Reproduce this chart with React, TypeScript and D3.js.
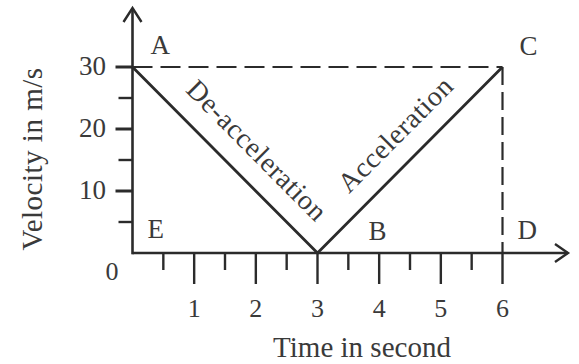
import React from "react";
import * as d3 from "d3";

// Velocity–time profile: decelerates from 30 m/s to rest, then accelerates back.
const times = [0, 3, 6];
const velocities = [30, 0, 30];
const xTickLabels = ["1", "2", "3", "4", "5", "6"];
const yTickLabels = ["10", "20", "30"];
const pointNames = ["A", "B", "C", "D", "E"];
const segmentLabels = ["De-acceleration", "Acceleration"];

const W = 579;
const H = 364;
const FONT = "'Liberation Serif', 'Times New Roman', serif";
const INK = "#2b2b2b";
const TEXT = "#3a3a3a";

export default function App() {
  const x = d3.scaleLinear().domain([0, 6]).range([132.5, 502.5]);
  const y = d3.scaleLinear().domain([0, 30]).range([253, 67]);

  const pts: [number, number][] = times.map((t, i) => [t, velocities[i]]);
  const line = d3
    .line<[number, number]>()
    .x((d) => x(d[0]))
    .y((d) => y(d[1]));

  const xTicks = d3.range(0.5, 6.01, 0.5);
  const yTicks = d3.range(5, 30.01, 5);

  const x0 = x(0);
  const y0 = y(0);
  const xEnd = 568;
  const yTop = 8;

  // segment label placement: position along the segment and perpendicular offset
  const segText = (
    a: [number, number],
    b: [number, number],
    frac: number,
    off: number,
    label: string
  ) => {
    const ax = x(a[0]), ay = y(a[1]), bx = x(b[0]), by = y(b[1]);
    const px = ax + (bx - ax) * frac;
    const py = ay + (by - ay) * frac;
    const ang = (Math.atan2(by - ay, bx - ax) * 180) / Math.PI;
    const len = Math.hypot(bx - ax, by - ay);
    // normal pointing to the "up" side of the rotated text
    const nx = (by - ay) / len;
    const ny = -(bx - ax) / len;
    const sx = ny < 0 ? 1 : -1;
    const cx = px + nx * off * sx;
    const cy = py + ny * off * sx;
    return (
      <text
        key={label}
        transform={`translate(${cx},${cy}) rotate(${ang})`}
        textAnchor="middle"
        fontSize={28}
        fontFamily={FONT}
        fill={TEXT}
        letterSpacing={0.6}
      >
        {label}
      </text>
    );
  };

  return (
    <svg width={W} height={H} style={{ position: "absolute", left: 0, top: 0, background: "#fff" }}>
      <rect width={W} height={H} fill="#fff" />

      {/* dashed guides from A to C and from C down to the time axis */}
      <line
        x1={x(0)}
        y1={y(30)}
        x2={x(6)}
        y2={y(30)}
        stroke={INK}
        strokeWidth={2.2}
        strokeDasharray="20 8"
      />
      <line
        x1={x(6)}
        y1={y(30)}
        x2={x(6)}
        y2={y0}
        stroke={INK}
        strokeWidth={2.2}
        strokeDasharray="18 7"
      />

      {/* axes */}
      <line x1={x0} y1={y0} x2={xEnd} y2={y0} stroke={INK} strokeWidth={2.6} />
      <line x1={x0} y1={y0 + 1.3} x2={x0} y2={yTop} stroke={INK} strokeWidth={2.6} />
      <polyline
        points={`${xEnd - 13},${y0 - 9} ${xEnd},${y0} ${xEnd - 13},${y0 + 9}`}
        fill="none"
        stroke={INK}
        strokeWidth={2.4}
      />
      <polyline
        points={`${x0 - 9},${yTop + 14} ${x0},${yTop} ${x0 + 9},${yTop + 14}`}
        fill="none"
        stroke={INK}
        strokeWidth={2.4}
      />

      {/* x ticks */}
      {xTicks.map((t) => {
        const major = Math.abs(t - Math.round(t)) < 1e-6;
        return (
          <line
            key={`xt${t}`}
            x1={x(t)}
            y1={y0}
            x2={x(t)}
            y2={y0 + (major ? 31 : 17)}
            stroke={INK}
            strokeWidth={2.4}
          />
        );
      })}
      {xTickLabels.map((l, i) => (
        <text
          key={`xl${l}`}
          x={x(i + 1)}
          y={317}
          textAnchor="middle"
          fontSize={26}
          fontFamily={FONT}
          fill={TEXT}
        >
          {l}
        </text>
      ))}

      {/* y ticks */}
      {yTicks.map((v) => {
        const major = v % 10 === 0;
        return (
          <line
            key={`yt${v}`}
            x1={x0}
            y1={y(v)}
            x2={x0 - (major ? 17 : 14)}
            y2={y(v)}
            stroke={INK}
            strokeWidth={major ? 3 : 2.4}
          />
        );
      })}
      {yTickLabels.map((l) => (
        <text
          key={`yl${l}`}
          x={106}
          y={y(+l) + 8}
          textAnchor="end"
          fontSize={27}
          fontFamily={FONT}
          fill={TEXT}
        >
          {l}
        </text>
      ))}
      <text x={112} y={280} textAnchor="middle" fontSize={26} fontFamily={FONT} fill={TEXT}>
        0
      </text>

      {/* velocity profile */}
      <path d={line(pts) ?? ""} fill="none" stroke={INK} strokeWidth={2.8} strokeLinejoin="miter" />

      {segText(pts[0], pts[1], 0.56, 20, segmentLabels[0])}
      {segText(pts[1], pts[2], 0.53, 19, segmentLabels[1])}

      {/* point names */}
      <text x={x(0) + 18} y={y(30) - 13} fontSize={27} fontFamily={FONT} fill={TEXT}>
        {pointNames[0]}
      </text>
      <text x={x(3) + 51} y={y(0) - 13} fontSize={27} fontFamily={FONT} fill={TEXT}>
        {pointNames[1]}
      </text>
      <text x={x(6) + 17} y={y(30) - 12} fontSize={27} fontFamily={FONT} fill={TEXT}>
        {pointNames[2]}
      </text>
      <text x={x(6) + 15} y={y(0) - 14} fontSize={27} fontFamily={FONT} fill={TEXT}>
        {pointNames[3]}
      </text>
      <text x={x(0) + 15} y={y(0) - 15} fontSize={27} fontFamily={FONT} fill={TEXT}>
        {pointNames[4]}
      </text>

      {/* axis titles */}
      <text x={362} y={357} textAnchor="middle" fontSize={29} fontFamily={FONT} fill={TEXT}>
        Time in second
      </text>
      <text
        transform="translate(42,159) rotate(-90)"
        textAnchor="middle"
        fontSize={29}
        fontFamily={FONT}
        fill={TEXT}
        letterSpacing={0.5}
      >
        Velocity in m/s
      </text>
    </svg>
  );
}
